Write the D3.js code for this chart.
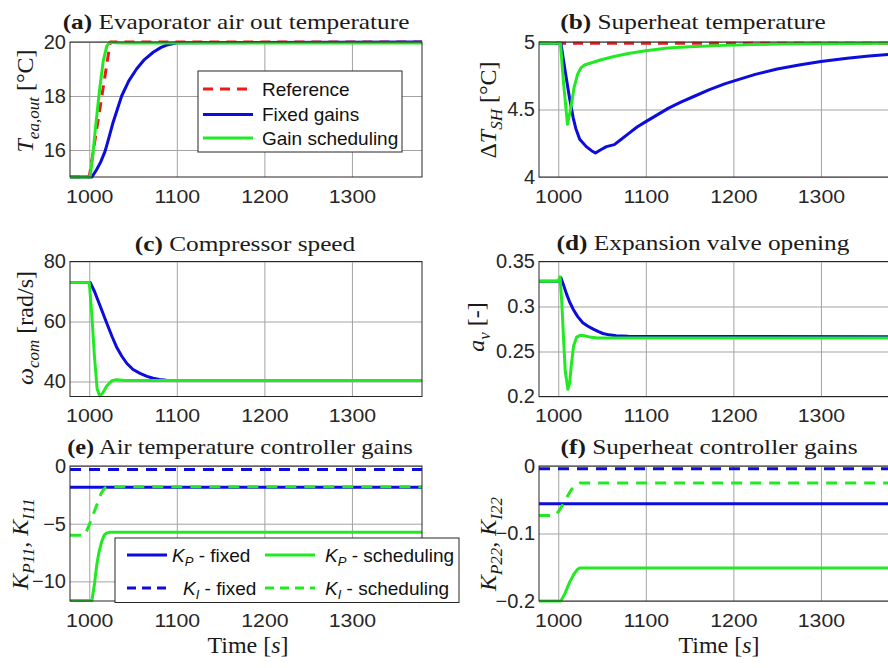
<!DOCTYPE html>
<html><head><meta charset="utf-8">
<script src="https://cdn.jsdelivr.net/npm/d3@7/dist/d3.min.js"></script>
<style>body{margin:0;background:#fff;} svg{display:block;}</style>
</head><body><svg id="c" width="888" height="668"></svg>
<script>
// ---------- DATA ----------
const xDomain = [978, 1380];
const xTicks = [1000, 1100, 1200, 1300];

// (a) Evaporator air out temperature
const aRefT = [978, 1000, 1024, 1380];
const aRefV = [15, 15, 20, 20];
const aFixT = [978, 1003, 1008, 1013, 1018, 1022, 1027, 1032, 1037, 1045, 1054, 1063, 1073, 1082, 1090, 1100, 1380];
const aFixV = [15, 15, 15.25, 15.55, 15.95, 16.4, 17.0, 17.5, 18.0, 18.55, 19.0, 19.35, 19.62, 19.8, 19.9, 19.97, 20];
const aSchT = [978, 1001, 1004, 1008, 1012, 1016, 1020, 1023, 1026, 1030, 1040, 1380];
const aSchV = [15, 15, 15.8, 17.1, 18.3, 19.3, 19.85, 19.98, 19.99, 19.97, 19.96, 19.96];

// (b) Superheat temperature
const bRefT = [978, 1380];
const bRefV = [4.99, 4.99];
const bFixT = [978, 1003, 1008, 1013, 1017, 1020, 1024.5, 1032, 1038, 1042.5, 1048, 1055, 1064, 1072, 1081, 1090, 1100, 1113, 1126, 1140, 1156, 1172, 1190, 1200, 1225, 1250, 1275, 1300, 1330, 1355, 1380];
const bFixV = [4.99, 4.99, 4.78, 4.58, 4.44, 4.36, 4.28, 4.225, 4.195, 4.178, 4.2, 4.225, 4.24, 4.28, 4.325, 4.37, 4.41, 4.46, 4.51, 4.555, 4.6, 4.645, 4.69, 4.71, 4.76, 4.8, 4.83, 4.855, 4.88, 4.897, 4.91];
const bSchT = [978, 1002.5, 1006, 1010.5, 1014, 1018, 1022, 1026, 1030, 1040, 1050, 1065, 1080, 1100, 1125, 1150, 1190, 1250, 1380];
const bSchV = [4.99, 4.99, 4.7, 4.39, 4.5, 4.66, 4.76, 4.81, 4.83, 4.85, 4.87, 4.895, 4.915, 4.935, 4.955, 4.965, 4.975, 4.985, 4.99];

// (c) Compressor speed
const cFixT = [978, 1001, 1006, 1012, 1020, 1026, 1031, 1037, 1043, 1050, 1058, 1066, 1073, 1080, 1088, 1100, 1380];
const cFixV = [73, 73, 70, 65.5, 59.4, 55, 51.6, 48.5, 46, 44, 42.7, 41.7, 41.1, 40.7, 40.45, 40.3, 40.3];
const cSchT = [978, 1000, 1003, 1006, 1009, 1012, 1015, 1020, 1026, 1031, 1040, 1380];
const cSchV = [73, 73, 62, 48, 37.5, 35.2, 36, 38.5, 40.3, 40.6, 40.3, 40.3];

// (d) Expansion valve opening
const dFixT = [978, 1000, 1003, 1006, 1009.4, 1013, 1017, 1022, 1028, 1034, 1040, 1046, 1051, 1058, 1066, 1080, 1380];
const dFixV = [0.328, 0.328, 0.332, 0.324, 0.314, 0.305, 0.297, 0.289, 0.282, 0.278, 0.2748, 0.272, 0.27, 0.2685, 0.2675, 0.267, 0.2665];
const dSchT = [978, 1000, 1002, 1004, 1006, 1008, 1011, 1013, 1015, 1017.5, 1021, 1025, 1030, 1036, 1045, 1380];
const dSchV = [0.328, 0.328, 0.333, 0.305, 0.265, 0.228, 0.208, 0.215, 0.236, 0.256, 0.266, 0.268, 0.2675, 0.266, 0.265, 0.265];

// (e) Air temperature controller gains
const eKpFixT = [978, 1380];
const eKpFixV = [-1.85, -1.85];
const eKiFixT = [978, 1380];
const eKiFixV = [-0.3, -0.3];
const eKpSchT = [978, 1003, 1006, 1008.5, 1011, 1014, 1017, 1020, 1023, 1380];
const eKpSchV = [-11.65, -11.65, -10.2, -8.6, -7.5, -6.6, -6.0, -5.8, -5.75, -5.75];
const eKiSchT = [978, 995, 1000, 1005, 1010, 1014, 1018, 1022, 1380];
const eKiSchV = [-6, -6, -5.1, -4.1, -3.1, -2.3, -1.9, -1.8, -1.8];

// (f) Superheat controller gains
const fKpFixT = [978, 1380];
const fKpFixV = [-0.056, -0.056];
const fKiFixT = [978, 1380];
const fKiFixV = [-0.004, -0.004];
const fKpSchT = [978, 1003, 1008, 1013, 1018, 1022, 1025, 1380];
const fKpSchV = [-0.2, -0.2, -0.188, -0.172, -0.16, -0.153, -0.151, -0.151];
const fKiSchT = [978, 996, 1000, 1005, 1010, 1015, 1020, 1025, 1380];
const fKiSchV = [-0.0735, -0.0735, -0.068, -0.058, -0.046, -0.035, -0.028, -0.025, -0.025];

// y-axis ticks
const aYTicks = [16, 18, 20];
const bYTicks = [4, 4.5, 5];
const cYTicks = [40, 60, 80];
const dYTicks = [0.2, 0.25, 0.3, 0.35];
const eYTicks = [-10, -5, 0];
const fYTicks = [-0.2, -0.1, 0];

// ---------- STYLE / LAYOUT ----------
const svg = d3.select("#c");
const W = 352, H = 135;
const colL = 70, colR = 539;
const rowT = [42, 261.5, 466];
const BLUE = "#0c0cdc", GREEN = "#22ea22", RED = "#f01818";
const SANS = "'Liberation Sans', Arial, sans-serif";
const SERIF = "'Liberation Serif', 'Times New Roman', serif";
const INK = "#262626";
const LW = 3;
const zip = (t, v) => t.map((d, i) => [d, v[i]]);

let clipId = 0;
function panel(cfg) {
  const x = d3.scaleLinear().domain(xDomain).range([0, W]);
  const y = d3.scaleLinear().domain(cfg.yDomain).range([H, 0]);
  const g = svg.append("g").attr("transform", `translate(${cfg.left},${cfg.top})`);
  g.append("rect").attr("width", W).attr("height", H).attr("fill", "#fff");

  const gx = g.append("g").attr("transform", `translate(0,${H})`)
    .call(d3.axisBottom(x).tickValues(xTicks).tickSize(-H).tickPadding(12.5).tickFormat(d3.format("d")));
  gx.select(".domain").remove();
  gx.selectAll("line").attr("stroke", "#a3a3a3").attr("stroke-width", 1);
  gx.selectAll("text").attr("font-family", SANS).attr("font-size", 19).attr("fill", INK)
    .attr("transform", "scale(1.12,1)");

  const gy = g.append("g")
    .call(d3.axisLeft(y).tickValues(cfg.yTicks).tickSize(-W).tickPadding(4).tickFormat(d3.format("")));
  gy.select(".domain").remove();
  gy.selectAll("line").attr("stroke", "#a3a3a3").attr("stroke-width", 1);
  gy.selectAll("text").attr("font-family", SANS).attr("font-size", 20).attr("fill", INK);

  const id = "clip" + (clipId++);
  g.append("clipPath").attr("id", id).append("rect")
    .attr("x", -2).attr("y", -2).attr("width", W + 4).attr("height", H + 4);
  const line = d3.line().x(d => x(d[0])).y(d => y(d[1]));
  const lg = g.append("g").attr("clip-path", `url(#${id})`);
  cfg.series.forEach(s => {
    lg.append("path").datum(zip(s.t, s.v)).attr("d", line)
      .attr("fill", "none").attr("stroke", s.color).attr("stroke-width", LW)
      .attr("stroke-dasharray", s.dash || null).attr("stroke-linejoin", "round");
  });
  g.append("rect").attr("width", W).attr("height", H).attr("fill", "none")
    .attr("stroke", INK).attr("stroke-width", 1);
  return g;
}

function title(cx, by, letter, rest, sx) {
  const t = svg.append("text").attr("transform", `translate(${cx},${by}) scale(${sx || 1.15},1)`)
    .attr("text-anchor", "middle").attr("font-family", SERIF).attr("font-size", 22).attr("fill", "#1a1a1a");
  t.append("tspan").attr("font-weight", "bold").text(letter);
  t.append("tspan").text(" " + rest);
}

function ylabel(bx, cy, parts) {
  const t = svg.append("text").attr("transform", `translate(${bx},${cy}) rotate(-90)`)
    .attr("text-anchor", "middle").attr("font-family", SERIF).attr("font-size", 24).attr("fill", "#1a1a1a");
  let prevSub = false;
  parts.forEach(([txt, it, sub]) => {
    let dy = 0;
    if (sub && !prevSub) dy = 6;
    if (!sub && prevSub) dy = -6;
    t.append("tspan").attr("font-style", it ? "italic" : "normal")
      .attr("font-size", sub ? 17 : 24).attr("dy", dy).text(txt);
    prevSub = sub;
  });
}

// ---------- PANELS ----------
panel({ left: colL, top: rowT[0], yDomain: [15, 20], yTicks: aYTicks, series: [
  { t: aRefT, v: aRefV, color: RED, dash: "10,7" },
  { t: aFixT, v: aFixV, color: BLUE },
  { t: aSchT, v: aSchV, color: GREEN }
]});
panel({ left: colR, top: rowT[0], yDomain: [4, 5], yTicks: bYTicks, series: [
  { t: bRefT, v: bRefV, color: RED, dash: "10,7" },
  { t: bFixT, v: bFixV, color: BLUE },
  { t: bSchT, v: bSchV, color: GREEN }
]});
panel({ left: colL, top: rowT[1], yDomain: [35, 80], yTicks: cYTicks, series: [
  { t: cFixT, v: cFixV, color: BLUE },
  { t: cSchT, v: cSchV, color: GREEN }
]});
panel({ left: colR, top: rowT[1], yDomain: [0.2, 0.35], yTicks: dYTicks, series: [
  { t: dFixT, v: dFixV, color: BLUE },
  { t: dSchT, v: dSchV, color: GREEN }
]});
panel({ left: colL, top: rowT[2], yDomain: [-11.7, 0], yTicks: eYTicks, series: [
  { t: eKiFixT, v: eKiFixV, color: BLUE, dash: "11,8" },
  { t: eKpFixT, v: eKpFixV, color: BLUE },
  { t: eKiSchT, v: eKiSchV, color: GREEN, dash: "11,8" },
  { t: eKpSchT, v: eKpSchV, color: GREEN }
]});
panel({ left: colR, top: rowT[2], yDomain: [-0.2, 0], yTicks: fYTicks, series: [
  { t: fKiFixT, v: fKiFixV, color: BLUE, dash: "11,8" },
  { t: fKpFixT, v: fKpFixV, color: BLUE },
  { t: fKiSchT, v: fKiSchV, color: GREEN, dash: "11,8" },
  { t: fKpSchT, v: fKpSchV, color: GREEN }
]});

// ---------- TITLES ----------
title(236, 29, "(a)", "Evaporator air out temperature");
title(693, 29, "(b)", "Superheat temperature");
title(245, 251, "(c)", "Compressor speed");
title(703, 250, "(d)", "Expansion valve opening");
title(240, 454, "(e)", "Air temperature controller gains", 1.11);
title(709, 454, "(f)", "Superheat controller gains");

// ---------- Y LABELS ----------
ylabel(33, 101, [["T", true, false], ["ea,out", true, true], [" [°C]", false, false]]);
ylabel(496, 110, [["Δ", false, false], ["T", true, false], ["SH", true, true], [" [°C]", false, false]]);
ylabel(33, 328, [["ω", true, false], ["com", true, true], [" [rad/s]", false, false]]);
ylabel(484, 327, [["a", true, false], ["v", true, true], [" [-]", false, false]]);
ylabel(28, 544, [["K", true, false], ["P11", true, true], [", ", false, false], ["K", true, false], ["I11", true, true]]);
ylabel(496, 544, [["K", true, false], ["P22", true, true], [", ", false, false], ["K", true, false], ["I22", true, true]]);

// ---------- X LABELS ----------
[248, 719].forEach(cx => {
  const t = svg.append("text").attr("x", cx).attr("y", 653).attr("text-anchor", "middle")
    .attr("font-family", SERIF).attr("font-size", 24).attr("fill", "#1a1a1a");
  t.append("tspan").text("Time [");
  t.append("tspan").attr("font-style", "italic").text("s");
  t.append("tspan").text("]");
});

// ---------- LEGEND (a) ----------
const legA = [["Reference", RED, "10,7"], ["Fixed gains", BLUE, null], ["Gain scheduling", GREEN, null]];
const lga = svg.append("g");
lga.append("rect").attr("x", 198).attr("y", 71).attr("width", 204).attr("height", 81)
  .attr("fill", "#fff").attr("stroke", INK).attr("stroke-width", 1);
const legARows = [89, 114.5, 138];
legA.forEach(([name, col, dash], i) => {
  lga.append("line").attr("x1", 203).attr("x2", 253).attr("y1", legARows[i]).attr("y2", legARows[i])
    .attr("stroke", col).attr("stroke-width", LW).attr("stroke-dasharray", dash);
  lga.append("text").attr("x", 262).attr("y", legARows[i]).attr("dy", "0.35em")
    .attr("font-family", SANS).attr("font-size", 19).attr("fill", "#111").text(name);
});

// ---------- LEGEND (e) ----------
const lge = svg.append("g");
lge.append("rect").attr("x", 115).attr("y", 538).attr("width", 344).attr("height", 64.5)
  .attr("fill", "#fff").attr("stroke", INK).attr("stroke-width", 1);
const legE = [
  { sub: "P", txt: " - fixed", col: BLUE, dash: null, x1: 127, x2: 167, tx: 172, y: 555 },
  { sub: "P", txt: " - scheduling", col: GREEN, dash: null, x1: 265, x2: 315, tx: 325, y: 555 },
  { sub: "I", txt: " - fixed", col: BLUE, dash: "9,6", x1: 127, x2: 167, tx: 183, y: 588 },
  { sub: "I", txt: " - scheduling", col: GREEN, dash: "9,6", x1: 265, x2: 315, tx: 325, y: 588 }
];
legE.forEach(e => {
  lge.append("line").attr("x1", e.x1).attr("x2", e.x2).attr("y1", e.y).attr("y2", e.y)
    .attr("stroke", e.col).attr("stroke-width", LW).attr("stroke-dasharray", e.dash);
  const t = lge.append("text").attr("x", e.tx).attr("y", e.y).attr("dy", "0.35em")
    .attr("font-family", SANS).attr("font-size", 19).attr("fill", "#111");
  t.append("tspan").attr("font-style", "italic").text("K");
  t.append("tspan").attr("font-style", "italic").attr("font-size", 13).attr("dy", 4).text(e.sub);
  t.append("tspan").attr("dy", -4).text(e.txt);
});
</script>
</body></html>
